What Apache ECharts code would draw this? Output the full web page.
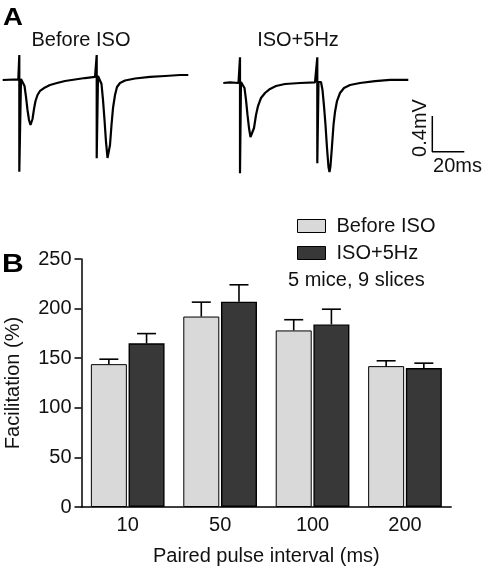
<!DOCTYPE html>
<html>
<head>
<meta charset="utf-8">
<script src="https://cdn.jsdelivr.net/npm/echarts@6/dist/echarts.min.js"></script>
<style>html,body{margin:0;padding:0;background:#fff}#c{width:482px;height:567px}</style>
</head>
<body>
<div id="c"></div>
<script>
// ---------- Panel B data ----------
const intervals = ['10', '50', '100', '200'];          // paired pulse interval (ms)
const beforeISO = [144, 192, 178, 142];                // facilitation (%)
const beforeISOsem = [5, 14.5, 10.8, 5.4];
const isoHz = [165, 207, 184, 140];
const isoHzSem = [9.8, 17, 15.4, 5];
const yTicks = [0, 50, 100, 150, 200, 250];

// ---------- Panel A traces: [time (ms), mV] relative to trace start / baseline ----------
const traceBefore = [
  [0, 0], [9.75, 0.006], [10.38, 0.28], [10.38, -1.027], [11.44, 0.011], [12.69, 0],
  [13.63, -0.067], [14.56, -0.19], [15.5, -0.336], [16.44, -0.448], [17.38, -0.504],
  [18.0, -0.493], [18.63, -0.437], [19.56, -0.325], [20.5, -0.235], [21.75, -0.168],
  [23.31, -0.123], [25.81, -0.09], [29.56, -0.056], [33.94, -0.034], [38.94, -0.011],
  [45.19, 0.006], [51.44, 0.022], [57.69, 0.034], [58.75, 0.28], [58.75, -0.877],
  [59.56, 0.045], [60.81, 0.045], [61.75, -0.045], [62.69, -0.224], [63.63, -0.448],
  [64.56, -0.694], [65.5, -0.873], [66.13, -0.885], [67.06, -0.728], [68.0, -0.504],
  [68.94, -0.314], [70.19, -0.168], [71.44, -0.078], [73.31, -0.034], [76.44, -0.006],
  [82.69, 0.017], [92.06, 0.034], [101.44, 0.045], [110.81, 0.056], [116.0, 0.056]
];
const traceIso = [
  [0, 0], [4.19, 0.006], [9.5, 0], [10.44, 0.288], [10.44, -1.011], [11.06, 0.011],
  [12.31, 0.011], [13.25, -0.056], [14.19, -0.19], [15.13, -0.358], [16.06, -0.504],
  [17.0, -0.605], [17.63, -0.616], [18.25, -0.594], [19.19, -0.504], [20.44, -0.358],
  [21.69, -0.258], [23.56, -0.168], [26.06, -0.112], [29.19, -0.067], [32.94, -0.034],
  [38.56, -0.011], [47.94, 0], [57.31, 0.006], [58.75, 0.288], [58.75, -0.899],
  [59.5, 0.011], [61.06, 0.011], [62.0, -0.078], [62.94, -0.258], [63.88, -0.47],
  [64.81, -0.728], [65.75, -0.941], [66.38, -0.997], [67.0, -0.93], [67.94, -0.706],
  [68.88, -0.47], [69.81, -0.325], [71.06, -0.202], [72.94, -0.112], [75.44, -0.056],
  [79.19, -0.022], [85.44, 0], [94.81, 0.022], [104.19, 0.034], [115.63, 0.034]
];
const scaleBarSize = [20, 0.4]; // ms, mV

// ---------- layout (positions of the traces within panel A) ----------
const FONT = 'Liberation Sans, Arial, sans-serif';
const trace1Offset = [1.69, 0];
const trace2Offset = [139.56, -0.0336];
const scaleBarOrigin = [270.19, -0.803];
const shift = (arr, o) => arr.map(p => [p[0] + o[0], p[1] + o[1]]);

const barW = 36, barGapPx = 1.7;
const half = (barW + barGapPx) / 2;

function errRender(offset) {
  return function (params, api) {
    const i = api.value(0);
    const base = api.coord([i, api.value(1)]);
    const hi = api.coord([i, api.value(2)]);
    const cx = base[0] + offset;
    const st = { stroke: '#000', lineWidth: 1.6 };
    return {
      type: 'group',
      children: [
        { type: 'line', shape: { x1: cx, y1: base[1], x2: cx, y2: hi[1] }, style: st },
        { type: 'line', shape: { x1: cx - 9.5, y1: hi[1], x2: cx + 9.5, y2: hi[1] }, style: st }
      ]
    };
  };
}

const chart = echarts.init(document.getElementById('c'), null, { renderer: 'canvas' });
chart.setOption({
  animation: false,
  backgroundColor: '#fff',
  textStyle: { fontFamily: FONT, color: '#111' },
  grid: [
    { left: 0, top: 0, width: 482, height: 200, outerBoundsMode: 'none', containLabel: false },
    { left: 81.5, top: 259, width: 369.7, height: 248, outerBoundsMode: 'none', containLabel: false }
  ],
  xAxis: [
    { gridIndex: 0, type: 'value', min: 0, max: 301.25, show: false },
    {
      gridIndex: 1, type: 'category', data: intervals,
      axisLine: { lineStyle: { color: '#000', width: 1.5 } },
      axisTick: { show: false },
      axisLabel: { color: '#111', fontSize: 20, margin: 8, fontFamily: FONT },
      name: 'Paired pulse interval (ms)', nameLocation: 'middle', nameGap: 39,
      nameTextStyle: { fontSize: 20, color: '#111', fontFamily: FONT }
    }
  ],
  yAxis: [
    { gridIndex: 0, type: 'value', min: -1.344, max: 0.896, show: false },
    {
      gridIndex: 1, type: 'value', min: yTicks[0], max: yTicks[yTicks.length - 1], interval: 50,
      splitLine: { show: false },
      axisLine: { show: true, lineStyle: { color: '#000', width: 1.5 } },
      axisTick: { show: true, length: 7, lineStyle: { color: '#000', width: 1.5 } },
      axisLabel: { color: '#111', fontSize: 20, margin: 10, fontFamily: FONT },
      name: 'Facilitation (%)', nameLocation: 'middle', nameGap: 58,
      nameTextStyle: { fontSize: 20, color: '#111', fontFamily: FONT }
    }
  ],
  legend: {
    data: ['Before ISO', 'ISO+5Hz'],
    orient: 'vertical', left: 292, top: 211,
    itemWidth: 28, itemHeight: 13, itemGap: 7,
    icon: 'rect',
    itemStyle: { borderColor: '#000', borderWidth: 1 },
    textStyle: { fontSize: 20, color: '#111', fontFamily: FONT, padding: [0, 0, 0, 6] }
  },
  series: [
    { type: 'line', xAxisIndex: 0, yAxisIndex: 0, data: shift(traceBefore, trace1Offset),
      showSymbol: false, lineStyle: { color: '#000', width: 2.2 }, silent: true },
    { type: 'line', xAxisIndex: 0, yAxisIndex: 0, data: shift(traceIso, trace2Offset),
      showSymbol: false, lineStyle: { color: '#000', width: 2.2 }, silent: true },
    { type: 'line', xAxisIndex: 0, yAxisIndex: 0,
      data: [
        [scaleBarOrigin[0], scaleBarOrigin[1] + scaleBarSize[1]],
        [scaleBarOrigin[0], scaleBarOrigin[1]],
        [scaleBarOrigin[0] + scaleBarSize[0], scaleBarOrigin[1]]
      ],
      showSymbol: false, lineStyle: { color: '#000', width: 1.5 }, silent: true },
    { type: 'bar', name: 'Before ISO', xAxisIndex: 1, yAxisIndex: 1, data: beforeISO,
      barWidth: barW, barGap: (barGapPx / barW * 100).toFixed(1) + '%',
      itemStyle: { color: '#d9d9d9', borderColor: '#000', borderWidth: 1 } },
    { type: 'bar', name: 'ISO+5Hz', xAxisIndex: 1, yAxisIndex: 1, data: isoHz,
      barWidth: barW,
      itemStyle: { color: '#383838', borderColor: '#000', borderWidth: 1.4 } },
    { type: 'custom', xAxisIndex: 1, yAxisIndex: 1, z: 5,
      data: beforeISO.map((v, i) => [i, v, v + beforeISOsem[i]]),
      renderItem: errRender(-half) },
    { type: 'custom', xAxisIndex: 1, yAxisIndex: 1, z: 5,
      data: isoHz.map((v, i) => [i, v, v + isoHzSem[i]]),
      renderItem: errRender(half) }
  ],
  graphic: [
    { type: 'text', left: 3, top: 7, style: { text: 'A', font: 'bold 23px ' + FONT, fill: '#000' }, scaleX: 1.2 },
    { type: 'text', left: 2, top: 253, style: { text: 'B', font: 'bold 25px ' + FONT, fill: '#000' }, scaleX: 1.2 },
    { type: 'text', x: 81, y: 40, style: { text: 'Before ISO', font: '20px ' + FONT, fill: '#111', align: 'center', verticalAlign: 'middle' } },
    { type: 'text', x: 298, y: 40, style: { text: 'ISO+5Hz', font: '20px ' + FONT, fill: '#111', align: 'center', verticalAlign: 'middle' } },
    { type: 'text', x: 420, y: 128, rotation: Math.PI / 2, style: { text: '0.4mV', font: '20px ' + FONT, fill: '#111', align: 'center', verticalAlign: 'middle' } },
    { type: 'text', x: 457.5, y: 166, style: { text: '20ms', font: '20px ' + FONT, fill: '#111', align: 'center', verticalAlign: 'middle' } },
    { type: 'text', x: 288, y: 280, style: { text: '5 mice, 9 slices', font: '20px ' + FONT, fill: '#111', align: 'left', verticalAlign: 'middle' } }
  ]
});
</script>
</body>
</html>
